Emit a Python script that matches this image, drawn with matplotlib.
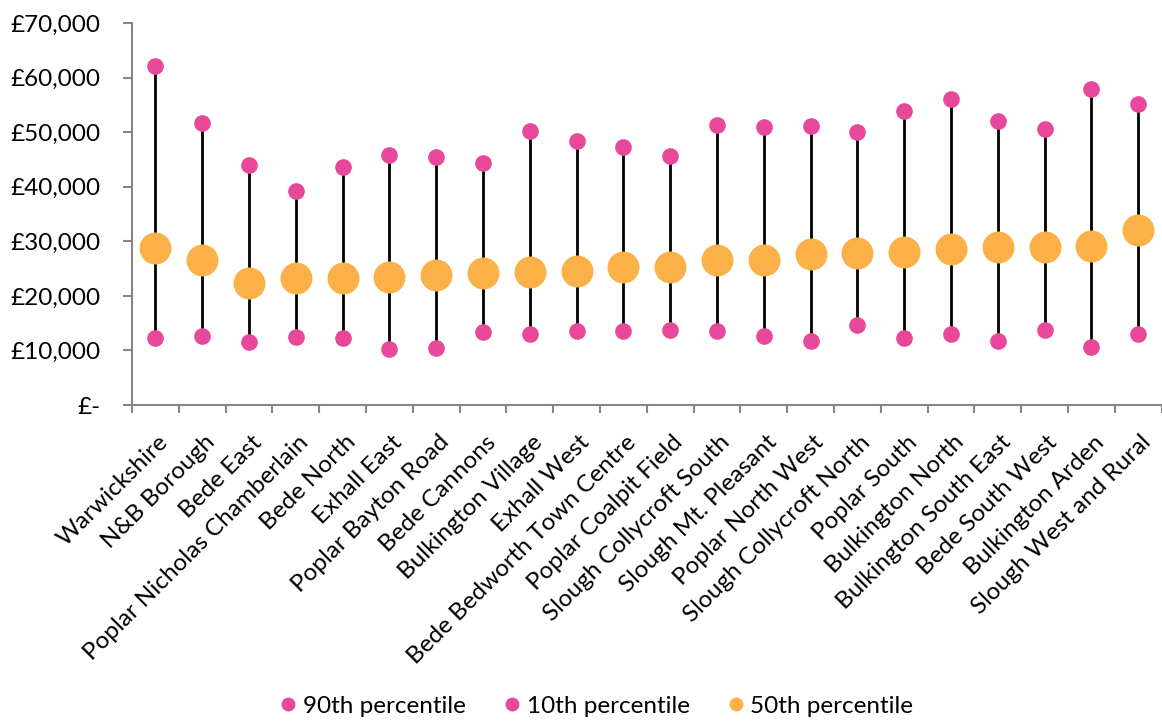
import matplotlib
matplotlib.use('Agg')
import matplotlib.pyplot as plt
from matplotlib.ticker import FixedLocator, FuncFormatter
from matplotlib.lines import Line2D
from matplotlib.transforms import ScaledTranslation
import numpy as np

wards = [
    'Warwickshire', 'N&B Borough', 'Bede East', 'Poplar Nicholas Chamberlain',
    'Bede North', 'Exhall East', 'Poplar Bayton Road', 'Bede Cannons',
    'Bulkington Village', 'Exhall West', 'Bede Bedworth Town Centre',
    'Poplar Coalpit Field', 'Slough Collycroft South', 'Slough Mt. Pleasant',
    'Poplar North West', 'Slough Collycroft North', 'Poplar South',
    'Bulkington North', 'Bulkington South East', 'Bede South West',
    'Bulkington Arden', 'Slough West and Rural',
]
p90 = [62100, 51700, 44000, 39200, 43600, 45900, 45400, 44300, 50200, 48400, 47300,
       45600, 51400, 50900, 51200, 50000, 53900, 56000, 52000, 50600, 57900, 55200]
p10 = [12300, 12700, 11600, 12400, 12300, 10300, 10400, 13300, 13100, 13600, 13600,
       13800, 13600, 12600, 11700, 14600, 12300, 13100, 11700, 13700, 10700, 13000]
p50 = [28800, 26600, 22400, 23200, 23300, 23400, 23800, 24200, 24400, 24500, 25300,
       25300, 26600, 26600, 27700, 27900, 28000, 28600, 29000, 29000, 29200, 32100]

PINK = '#E8489A'
ORANGE = '#FBB147'
AXIS_GREY = '#868686'
FS = 17.5

plt.rcParams['font.family'] = ['Lato', 'DejaVu Sans']

fig = plt.figure(figsize=(11.62, 7.22), dpi=100)
ax = fig.add_axes([0.1136, 0.439, 0.886, 0.529])

x = np.arange(len(wards))
ax.vlines(x, p10, p90, color='black', linewidth=2.0, zorder=1)
ax.plot(x, p90, 'o', color=PINK, markersize=12, markeredgewidth=0, zorder=2)
ax.plot(x, p10, 'o', color=PINK, markersize=12, markeredgewidth=0, zorder=2)
ax.plot(x, p50, 'o', color=ORANGE, markersize=23, markeredgewidth=0, zorder=3)

ax.set_xlim(-0.5, len(wards) - 0.5)
ax.set_ylim(0, 70000)

for side in ('top', 'right'):
    ax.spines[side].set_visible(False)
for side in ('left', 'bottom'):
    ax.spines[side].set_color(AXIS_GREY)
    ax.spines[side].set_linewidth(1.5)

ax.set_yticks(np.arange(0, 70001, 10000))
ax.yaxis.set_major_formatter(FuncFormatter(lambda v, _: '£-' if v == 0 else f'£{v:,.0f}'))
ax.tick_params(axis='y', direction='out', length=6.5, width=1.5, color=AXIS_GREY,
               labelsize=FS, pad=16, labelcolor='black')

# category labels sit between the boundary ticks
ax.set_xticks(x)
ax.set_xticklabels(wards, rotation=45, ha='right', rotation_mode='anchor', fontsize=FS)
ax.xaxis.set_minor_locator(FixedLocator(np.arange(-0.5, len(wards), 1.0)))
ax.tick_params(axis='x', which='major', length=0, pad=19)
ax.tick_params(axis='x', which='minor', direction='out', length=6, width=1.5, color=AXIS_GREY)
shift = ScaledTranslation(2 / 100, 0, fig.dpi_scale_trans)
for lbl in ax.get_xticklabels():
    lbl.set_transform(lbl.get_transform() + shift)

handles = [
    Line2D([], [], marker='o', linestyle='none', color=PINK, markersize=10, markeredgewidth=0),
    Line2D([], [], marker='o', linestyle='none', color=PINK, markersize=10, markeredgewidth=0),
    Line2D([], [], marker='o', linestyle='none', color=ORANGE, markersize=10, markeredgewidth=0),
]
fig.legend(handles, ['90th percentile', '10th percentile', '50th percentile'],
           loc='center', bbox_to_anchor=(0.513, 0.022), ncol=3, frameon=False,
           fontsize=FS, handletextpad=0.2, columnspacing=1.5, handlelength=0.8)

fig.savefig('out.png', dpi=100)
